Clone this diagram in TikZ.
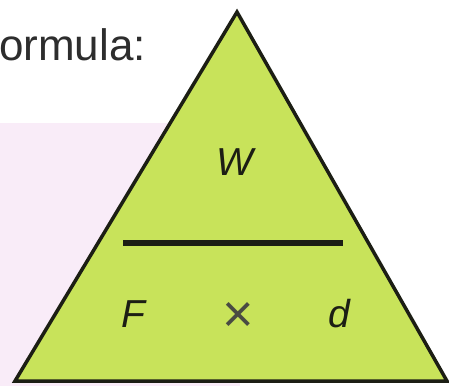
\documentclass[tikz,border=0pt]{standalone}
\usepackage{fontspec}
\setmainfont{Liberation Sans}
\definecolor{trifill}{RGB}{200,227,90}
\definecolor{pinkbg}{RGB}{249,236,248}
\definecolor{ink}{RGB}{28,30,20}
\definecolor{textgray}{RGB}{45,45,45}
\begin{document}
\begin{tikzpicture}[x=1pt,y=-1pt,
  lbl/.style={font=\fontsize{39}{39}\selectfont\itshape, text=ink, inner sep=0pt, anchor=base},
  tri/.style={fill=trifill, draw=ink, line width=3.5pt, line join=miter}]
\useasboundingbox (0,0) rectangle (449,386);
\fill[white] (0,0) rectangle (449,386);
\fill[pinkbg] (0,123) rectangle (240,386);
\node[font=\fontsize{44}{44}\selectfont, text=textgray, anchor=base west, inner sep=0pt] (title) at (-1,60) {ormula:};
\coordinate (apex) at (237,12);
\coordinate (bl) at (15,381);
\coordinate (br) at (447,381);
\draw[tri] (apex) -- (br) -- (bl) -- cycle;
\coordinate (barL) at (123,243);
\coordinate (barR) at (343,243);
\draw[ink, line width=6pt] (barL) -- (barR);
\node[lbl] (W) at (235,175) {W};
\node[lbl] (F) at (133,327) {F};
\node[font=\fontsize{54}{54}\selectfont, text=ink!80, inner sep=0pt, anchor=center] (times) at (238,317) {×};
\node[lbl] (d) at (339,327) {d};
\end{tikzpicture}
\end{document}
